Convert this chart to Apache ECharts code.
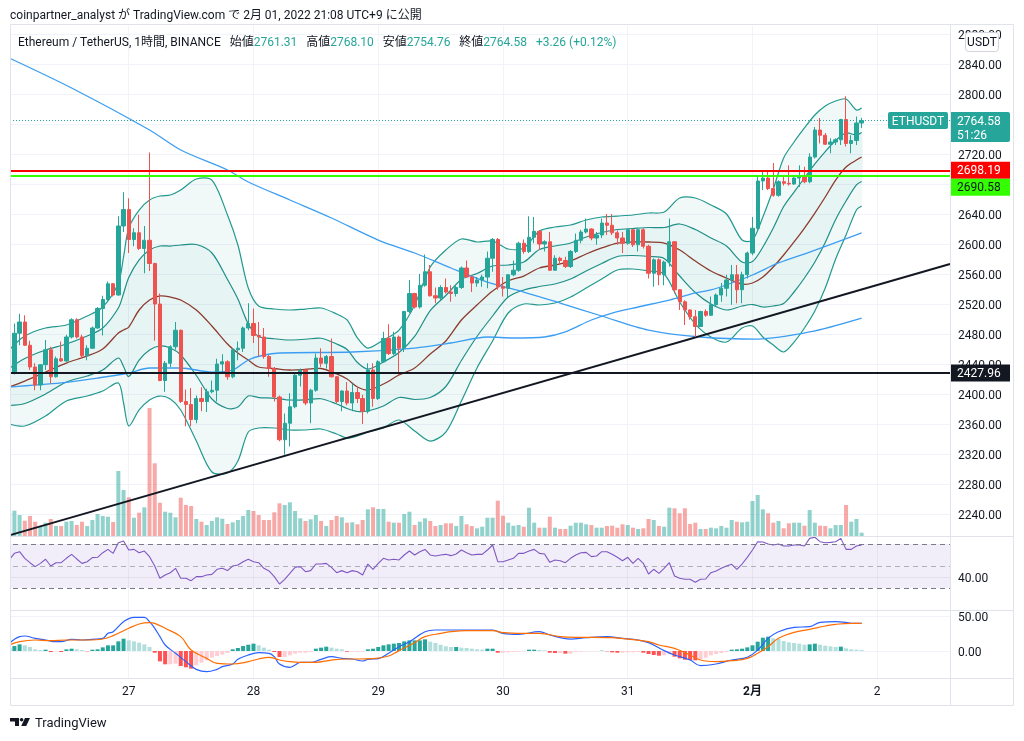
<!DOCTYPE html>
<html><head><meta charset="utf-8">
<script src="https://cdn.jsdelivr.net/npm/echarts@6/dist/echarts.min.js"></script>
<style>html,body{margin:0;padding:0;background:#fff;}#chart{width:1024px;height:741px;}</style>
</head><body><div id="chart"></div>
<script>
// ---------- DATA (hours are offsets from 2022-01-27 00:00 UTC+9) ----------
const firstHour = -23;
const opens = [2418,2428,2481,2496,2465,2436,2412,2439,2459,2423,2447,2444,
2476,2499,2476,2451,2461,2488,2514,2526,2547,2532,2624,2646,
2606,2615,2594,2605,2574,2520,2418,2441,2463,2485,2390,2386,
2366,2394,2390,2403,2405,2440,2443,2423,2459,2461,2488,2494,
2478,2476,2450,2434,2396,2339,2361,2383,2425,2432,2388,2405,
2448,2441,2450,2423,2390,2404,2388,2402,2394,2377,2432,2394,
2443,2474,2454,2476,2461,2510,2534,2516,2545,2563,2531,2528,
2542,2536,2534,2542,2568,2556,2548,2552,2556,2581,2606,2543,
2541,2559,2565,2601,2590,2609,2617,2600,2603,2565,2581,2578,
2570,2590,2605,2616,2620,2608,2612,2628,2625,2615,2608,2601,
2619,2599,2619,2597,2561,2579,2559,2576,2603,2539,2523,2512,
2503,2490,2510,2505,2519,2532,2541,2552,2559,2539,2559,2588,
2621,2684,2688,2674,2665,2683,2681,2680,2688,2690,2683,2716,
2752,2745,2733,2736,2739,2766,2734,2738,2761.31];
const closes = [2428,2481,2496,2465,2436,2412,2439,2459,2423,2447,2444,2476,
2499,2476,2451,2461,2488,2514,2526,2547,2532,2624,2646,2606,
2615,2594,2605,2574,2520,2418,2441,2463,2485,2390,2386,2366,
2394,2390,2403,2405,2440,2443,2423,2459,2461,2488,2494,2478,
2476,2450,2434,2396,2339,2361,2383,2425,2432,2388,2405,2448,
2441,2450,2423,2390,2404,2388,2402,2394,2377,2432,2394,2443,
2474,2454,2476,2461,2510,2534,2516,2545,2563,2531,2528,2542,
2536,2534,2542,2568,2556,2548,2552,2556,2581,2606,2543,2541,
2559,2565,2601,2590,2609,2617,2600,2603,2565,2581,2578,2570,
2590,2605,2616,2620,2608,2612,2628,2625,2615,2608,2601,2619,
2599,2619,2597,2561,2579,2559,2576,2603,2539,2523,2512,2503,
2490,2510,2505,2519,2532,2541,2552,2559,2539,2559,2588,2621,
2684,2688,2674,2665,2683,2681,2680,2688,2690,2683,2716,2752,
2745,2733,2736,2739,2766,2734,2738,2761.31,2764.58];
const lows = [2414,2426,2465,2464,2432,2405,2405,2432,2414,2422,2443,2443,
2474,2474,2448,2445,2460,2487,2478,2523,2530,2531,2616,2588,
2597,2592,2561,2564,2471,2417,2403,2436,2459,2388,2357,2357,
2361,2377,2376,2401,2390,2428,2419,2421,2445,2456,2485,2468,
2450,2447,2423,2390,2337,2319,2330,2381,2410,2385,2361,2403,
2436,2434,2422,2388,2377,2385,2377,2388,2360,2374,2383,2392,
2442,2452,2452,2425,2456,2508,2514,2514,2543,2530,2521,2525,
2534,2523,2530,2540,2555,2536,2543,2543,2541,2563,2539,2530,
2529,2557,2563,2587,2588,2601,2592,2590,2564,2565,2572,2568,
2568,2588,2601,2614,2605,2599,2608,2612,2612,2599,2588,2599,
2596,2590,2594,2554,2543,2545,2545,2570,2534,2512,2492,2499,
2476,2490,2503,2504,2517,2523,2530,2519,2521,2521,2554,2585,
2619,2672,2672,2663,2663,2678,2678,2679,2676,2681,2681,2714,
2734,2732,2721,2732,2732,2730,2721,2732,2754.76];
const highs = [2431,2494,2507,2505,2471,2441,2440,2472,2463,2450,2470,2479,
2501,2501,2479,2465,2490,2516,2531,2550,2548,2637,2669,2661,
2621,2639,2624,2722,2575,2534,2444,2465,2496,2486,2406,2408,
2398,2409,2407,2418,2447,2453,2445,2461,2470,2490,2521,2514,
2496,2488,2452,2436,2398,2374,2401,2427,2434,2434,2407,2454,
2461,2452,2474,2424,2405,2416,2414,2408,2399,2441,2441,2445,
2483,2493,2483,2478,2511,2552,2535,2560,2586,2572,2542,2545,
2554,2545,2545,2570,2578,2558,2556,2559,2590,2608,2608,2556,
2560,2578,2603,2606,2637,2636,2618,2605,2616,2585,2583,2583,
2592,2614,2619,2634,2621,2616,2634,2640,2640,2618,2616,2620,
2620,2620,2621,2599,2581,2581,2578,2634,2604,2540,2525,2513,
2512,2511,2513,2530,2534,2548,2559,2572,2572,2563,2590,2636,
2690,2696,2696,2708,2685,2690,2705,2690,2705,2703,2721,2756,
2768,2748,2741,2741,2767,2797,2745,2770,2768.10];
const volumes = [22.7,25.3,21,15.3,20,14.3,9.3,13.3,17,10,10,14.3,
15,11,14.3,10,16,22,20,19.3,14,65,46,38.7,
18.3,23.3,28.7,128,72.7,33.3,24.3,23.3,18.7,38.3,31,30,
17,14.3,11,15,18.7,17.3,12,13.7,16,20,26,25,
21,16,16,23.7,32.7,31,33.7,25,17.7,15,16.7,21,
15,10,16,20,18.7,13.3,13.7,11.7,16,26.7,28.7,27,
27,14.3,13.3,13.3,22,24.3,11,14.3,17.7,15,10,11,
12.7,12.7,10,20,11.7,10,7.7,9.3,18.3,18.3,35.3,20.3,
13.3,10.3,11,9.3,28.3,13.3,8.3,8.3,19.3,8.3,7,7,
10.3,13.3,13.3,11.7,11,8.3,8.3,10,10.3,8.3,11.7,11,
8.3,7,7.7,17,16,10,9.3,28.3,27.7,22.7,27.7,12,
13.3,7,7,8.3,7.7,10,8.3,16,14.3,13.7,14.3,35,
41,26.7,22.7,13.3,15,7.7,12.7,13.3,13.3,10.3,26,13.3,
10.3,10,7.7,11,11,31,14.3,17,3.3];
const rsiValues = [55.5,61.5,63.0,57.0,53.0,49.4,52.4,56.1,50.0,53.0,53.0,57.0,
60.6,56.4,52.4,53.9,57.6,57.9,62.1,65.1,61.5,71.2,72.7,64.5,
65.1,62.1,63.6,58.5,50.0,38.8,41.8,43.9,47.9,38.8,38.8,36.7,
40.3,40.3,41.8,42.4,47.0,47.9,45.8,50.0,50.9,53.9,56.1,53.9,
53.0,47.9,45.5,40.3,33.6,37.9,43.3,48.8,49.4,44.8,45.8,51.8,
51.8,52.4,48.8,43.9,45.8,43.9,45.8,44.8,41.8,51.8,47.0,52.4,
57.0,55.5,56.1,55.5,60.0,63.6,60.0,63.0,65.1,60.0,59.1,60.0,
60.6,59.4,60.9,64.5,62.1,60.0,60.6,60.6,64.5,69.1,53.9,53.9,
55.5,57.0,61.5,61.5,63.6,65.1,61.5,60.9,53.3,55.5,54.8,53.0,
57.0,60.0,62.1,62.4,58.5,59.1,63.0,63.0,60.6,57.9,54.8,57.9,
52.4,57.0,52.4,42.7,47.0,43.3,47.9,53.0,40.9,38.8,37.9,37.9,
35.2,37.9,38.2,43.9,45.5,47.9,50.0,51.5,47.0,51.8,57.9,64.5,
72.1,71.8,70.0,69.1,70.0,68.2,68.2,69.1,69.1,68.2,75.1,76.1,
72.1,71.2,71.5,72.1,75.1,65.1,65.1,68.2,69.1];
const macdHist = [4.3,7.1,9.5,8.1,5.7,2.4,1.4,1.9,-1.4,-0.5,-1.4,2.4,
3.3,2.4,1.4,-0.5,1.9,2.4,5.2,8.1,8.1,13.8,17.6,15.2,
13.8,11.9,9.5,5.7,-2.4,-14.8,-19.0,-19.0,-18.1,-21.4,-23.3,-25.2,
-20.5,-16.7,-13.3,-9.5,-7.1,-5.2,-2.9,2.4,4.3,7.1,9.0,10.5,
8.1,4.8,1.9,-1.4,-8.6,-8.6,-6.2,-3.8,-2.4,-2.4,-1.4,3.3,
4.8,6.2,4.8,3.3,2.4,-1.0,-1.0,-1.0,-1.0,2.4,3.3,5.7,
8.1,9.5,10.5,11.4,13.8,15.2,15.2,15.2,16.7,13.3,11.4,9.0,
6.7,5.7,5.7,4.8,4.3,3.3,2.4,1.9,3.3,3.3,-2.4,-2.4,
-1.9,-1.4,-1.0,-0.5,1.9,1.9,1.4,1.0,-2.4,-2.9,-2.9,-3.8,
-3.8,-1.4,-1.0,-0.5,-0.5,-0.5,0.5,-0.5,-1.9,-2.4,-2.4,-1.9,
-1.9,-1.4,-2.4,-4.3,-5.7,-6.7,-6.2,-4.3,-8.1,-10.5,-12.4,-12.9,
-13.3,-11.9,-9.5,-6.2,-4.3,-2.9,-1.4,1.9,2.4,3.3,5.2,8.1,
13.3,19.0,20.5,18.1,17.1,14.3,12.4,11.4,10.5,9.0,9.5,10.5,
9.0,7.6,6.7,5.7,6.2,3.8,2.4,1.9,1.4];
// MACD / signal lines read at sample hours: [hour, value]
const macdLine = [[-23,11.0],[-21,20.5],[-20,21.4],[-18,18.1],[-16,15.7],[-14,13.3],[-13,13.3],[-11,16.7],[-9,15.7],[-7,16.7],[-5,18.1],[-4,25.2],[-3,27.6],[-1,41.9],[1,48.1],[3,48.1],[4,41.9],[5,32.4],[6,20.5],[7,8.6],[9,-3.3],[11,-15.2],[13,-26.2],[15,-29.5],[17,-26.2],[18,-22.4],[20,-18.6],[21,-11.9],[23,-5.7],[25,-2.4],[27,-3.3],[28,-8.1],[29,-18.6],[31,-23.3],[32,-20.0],[33,-16.2],[35,-16.2],[37,-11.9],[39,-8.1],[41,-10.5],[43,-11.4],[45,-14.3],[46,-11.9],[48,-10.9],[50,-3.3],[52,6.2],[54,13.3],[57,27.6],[59,30.0],[62,30.0],[66,30.0],[70,30.0],[72,25.2],[75,23.8],[79,27.6],[81,22.9],[85,17.1],[88,19.0],[92,20.5],[95,18.1],[98,15.7],[100,11.9],[103,0.5],[105,-5.7],[108,-12.9],[110,-20.9],[113,-18.6],[116,-12.9],[119,-9.0],[121,1.4],[123,18.1],[125,27.6],[128,33.8],[131,34.8],[133,40.9],[136,41.9],[138,40.9],[139,39.5],[141,39.5]];
const signalLine = [[-23,8.6],[-21,13.3],[-18,15.7],[-15,14.8],[-12,15.7],[-8,15.7],[-5,17.1],[-3,21.9],[0,32.4],[2,38.6],[4,40.5],[5,39.5],[7,32.4],[10,20.5],[12,1.4],[15,-10.5],[17,-17.6],[20,-18.6],[23,-15.2],[25,-11.4],[27,-9.0],[29,-12.9],[31,-15.2],[33,-16.2],[36,-16.2],[39,-12.9],[42,-11.4],[44,-11.4],[47,-10.9],[50,-7.1],[52,0.5],[55,11.9],[57,20.5],[60,25.2],[62,27.6],[65,29.0],[70,29.0],[72,26.2],[76,25.2],[79,25.2],[83,20.5],[86,19.5],[89,19.5],[93,19.0],[96,17.1],[100,13.3],[102,8.6],[105,3.8],[108,-5.7],[110,-12.9],[113,-15.2],[116,-13.8],[119,-10.5],[121,-3.3],[123,6.2],[125,18.1],[128,26.7],[131,31.0],[134,35.7],[136,38.1],[139,39.5],[141,39.5]];
// Bollinger bands read at sample hours
const bbHours  = [-23,-20,-16,-12,-8,-5,-2,-1,0,2,4,6,8,10,13,16,19,21,23,25,28,31,34,37,40,42,44,46,49,52,55,58,61,64,67,70,73,76,79,82,85,88,91,94,97,100,103,106,109,112,115,118,120,122,124,126,128,130,132,134,136,138,140,141];
const bbUpper2 = [2458.7,2477.3,2488.0,2492.0,2504.0,2516.0,2548.0,2582.7,2621.3,2645.3,2658.7,2664.0,2665.3,2672.0,2686.7,2685.3,2638.7,2598.7,2541.3,2517.3,2513.3,2512.0,2513.3,2514.7,2506.7,2498.7,2474.7,2461.3,2472.0,2485.3,2518.7,2569.3,2592.0,2606.7,2602.7,2604.0,2593.3,2594.7,2617.3,2622.7,2625.3,2632.0,2636.0,2637.3,2638.7,2641.3,2642.7,2661.3,2661.3,2652.0,2640.0,2605.3,2605.3,2636.0,2673.3,2714.7,2736.0,2754.7,2772.0,2784.0,2790.7,2793.3,2778.7,2781.3];
const bbUpper1 = [2434.0,2447.3,2458.7,2466.7,2477.3,2488.0,2514.7,2534.0,2555.3,2578.7,2592.0,2597.3,2597.3,2598.7,2599.3,2588.0,2552.7,2526.7,2493.3,2476.7,2473.7,2472.0,2473.0,2474.3,2466.7,2459.3,2442.0,2433.3,2442.7,2455.3,2476.7,2511.3,2531.3,2552.7,2560.7,2570.7,2572.0,2576.0,2592.7,2597.3,2601.3,2609.3,2615.3,2619.3,2620.7,2622.0,2622.0,2626.7,2619.3,2608.0,2597.3,2576.0,2576.7,2596.0,2621.3,2650.0,2669.3,2688.0,2706.7,2723.3,2738.0,2748.0,2745.3,2748.7];
const bbMiddle = [2409.3,2417.3,2429.3,2441.3,2450.7,2460.0,2481.3,2485.3,2489.3,2512.0,2525.3,2530.7,2529.3,2525.3,2512.0,2490.7,2466.7,2454.7,2445.3,2436.0,2434.0,2432.0,2432.7,2434.0,2426.7,2420.0,2409.3,2405.3,2413.3,2425.3,2434.7,2453.3,2470.7,2498.7,2518.7,2537.3,2550.7,2557.3,2568.0,2572.0,2577.3,2586.7,2594.7,2601.3,2602.7,2602.7,2601.3,2592.0,2577.3,2564.0,2554.7,2546.7,2548.0,2556.0,2569.3,2585.3,2602.7,2621.3,2641.3,2662.7,2685.3,2702.7,2712.0,2716.0];
const bbLower1 = [2384.7,2387.3,2400.0,2416.0,2424.0,2432.0,2448.0,2436.7,2423.3,2445.3,2458.7,2464.0,2461.3,2452.0,2424.7,2393.3,2380.7,2382.7,2397.3,2395.3,2394.3,2392.0,2392.3,2393.7,2386.7,2380.7,2376.7,2377.3,2384.0,2395.3,2392.7,2395.3,2410.0,2444.7,2476.7,2504.0,2529.3,2538.7,2543.3,2546.7,2553.3,2564.0,2574.0,2583.3,2584.7,2583.3,2580.7,2557.3,2535.3,2520.0,2512.0,2517.3,2519.3,2516.0,2517.3,2520.7,2536.0,2554.7,2576.0,2602.0,2632.7,2657.3,2678.7,2683.3];
const bbLower2 = [2360.0,2357.3,2370.7,2390.7,2397.3,2404.0,2414.7,2388.0,2357.3,2378.7,2392.0,2397.3,2393.3,2378.7,2337.3,2296.0,2294.7,2310.7,2349.3,2354.7,2354.7,2352.0,2352.0,2353.3,2346.7,2341.3,2344.0,2349.3,2354.7,2365.3,2350.7,2337.3,2349.3,2390.7,2434.7,2470.7,2508.0,2520.0,2518.7,2521.3,2529.3,2541.3,2553.3,2565.3,2566.7,2564.0,2560.0,2522.7,2493.3,2476.0,2469.3,2488.0,2490.7,2476.0,2465.3,2456.0,2469.3,2488.0,2510.7,2541.3,2580.0,2612.0,2645.3,2650.7];
// moving averages (blue) read at sample hours
const maLong  = [[-23,2848.0],[-11,2808.0],[4,2752.0],[10,2725.3],[19,2698.7],[23,2682.7],[31,2658.7],[39,2634.7],[48,2605.3],[55,2588.0],[62,2568.0],[69,2549.3],[76,2536.0],[83,2521.3],[91,2504.0],[100,2485.3],[110,2476.0],[121,2473.3],[131,2482.7],[141,2501.3]];
const maShort = [[-23,2409.3],[-13,2414.7],[-6,2421.3],[0,2428.0],[4,2434.7],[10,2434.7],[16,2429.3],[20,2432.0],[23,2445.3],[26,2452.0],[29,2454.7],[43,2456.0],[55,2461.3],[62,2468.0],[69,2476.0],[74,2474.7],[80,2476.0],[84,2482.7],[89,2498.7],[93,2508.0],[98,2516.0],[104,2525.3],[109,2534.7],[112,2538.7],[116,2548.0],[120,2558.7],[125,2574.7],[131,2589.3],[141,2614.7]];
const trendline = [[-23,2211.5],[158,2573.3]];
const redLevel = 2698.19, greenLevel = 2690.58, blackLevel = 2427.96;
const countdown = '51:26';
const dayTicks = [0,24,48,72,96,120,144];
const dayNames = ['27','28','29','30','31','2月','2'];
const monthStartTick = 120;

// ---------- CHART ----------
const FONT = 'Roboto, "Noto Sans CJK JP", sans-serif';
const hours = opens.map((_, i) => firstHour + i);
const UP = '#26a69a', DOWN = '#ef5350', GRIDC = '#f0f3fa';
const chart = echarts.init(document.getElementById('chart'));

function gridDef(top, height){ return {left:4, right:74, top:top, height:height, containLabel:false, outerBoundsMode:'none'}; }
function xAx(k){
  return {type:'value', gridIndex:k, min:-24, max:158, interval:24,
    axisLine:{show:false}, axisTick:{show:false},
    splitLine:{show:k!==1, showMinLine:false, showMaxLine:false, lineStyle:{color:GRIDC, width:1}},
    axisLabel: k===3 ? {show:true, margin:8, color:'#131722', fontSize:12, fontFamily:FONT,
      formatter: v => { const i = dayTicks.indexOf(v); if (i < 0) return ''; return v===monthStartTick ? '{b|'+dayNames[i]+'}' : dayNames[i]; },
      rich:{b:{fontWeight:'bold', fontSize:12, color:'#131722', fontFamily:FONT}}} : {show:false}
  };
}
const axRich = {a:{color:'#131722', fontSize:12, fontFamily:FONT, padding:[4,0,0,0]}};
const labelStyle = {color:'#131722', fontSize:12, fontFamily:FONT, margin:8, rich:axRich};
const priceFmt = v => '{a|'+v.toFixed(2)+'}';

const option = {
  animation:false,
  backgroundColor:'#ffffff',
  grid:[gridDef(26,510), gridDef(26,510), gridDef(536,74), gridDef(610,68)],
  xAxis:[xAx(0), xAx(1), xAx(2), xAx(3)],
  yAxis:[
    {type:'value', gridIndex:0, position:'right', min:2210.67, max:2890.67, splitNumber:17, minInterval:40, maxInterval:40,
      axisLine:{show:false}, axisTick:{show:false},
      splitLine:{show:true, showMinLine:false, showMaxLine:false, lineStyle:{color:GRIDC}},
      axisLabel:Object.assign({showMinLabel:false, showMaxLabel:false, formatter:priceFmt}, labelStyle)},
    {type:'value', gridIndex:1, min:0, max:510, show:false},
    {type:'value', gridIndex:2, position:'right', min:10, max:77.27, splitNumber:7, minInterval:10, maxInterval:10,
      axisLine:{show:false}, axisTick:{show:false}, splitLine:{show:false},
      axisLabel:Object.assign({formatter:v=>Math.abs(v-40)<1e-6?priceFmt(40):''}, labelStyle)},
    {type:'value', gridIndex:3, position:'right', min:-38.57, max:58.57, splitNumber:2, minInterval:50, maxInterval:50,
      axisLine:{show:false}, axisTick:{show:false},
      splitLine:{show:true, showMinLine:false, showMaxLine:false, lineStyle:{color:GRIDC}},
      axisLabel:Object.assign({showMinLabel:false, showMaxLabel:false, formatter:priceFmt}, labelStyle)}
  ],
  series:[
    {type:'bar', name:'Volume', xAxisIndex:1, yAxisIndex:1, barWidth:4, z:1, silent:true,
      data: hours.map((h,i)=>[h, volumes[i]]),
      itemStyle:{color: p => closes[p.dataIndex] >= opens[p.dataIndex] ? 'rgba(38,166,154,0.5)' : 'rgba(239,83,80,0.5)'}},
    {type:'custom', name:'BB', xAxisIndex:0, yAxisIndex:0, z:1, silent:true,
      data: bbHours.map((h,i)=>[h, bbMiddle[i]]), encode:{x:0, y:1},
      renderItem:(params, api) => {
        if (params.dataIndex !== 0) return null;
        const pts = arr => bbHours.map((h,i)=>api.coord([h, arr[i]]));
        const u2=pts(bbUpper2), u1=pts(bbUpper1), m=pts(bbMiddle), l1=pts(bbLower1), l2=pts(bbLower2);
        const sm = 0.3;
        const line = (p, c, w) => ({type:'polyline', shape:{points:p, smooth:sm}, style:{stroke:c, fill:'none', lineWidth:w}});
        return {type:'group', children:[
          {type:'polygon', shape:{points:u2.concat(l2.slice().reverse()), smooth:sm}, style:{fill:'rgba(38,166,154,0.065)'}},
          {type:'polygon', shape:{points:u1.concat(l1.slice().reverse()), smooth:sm}, style:{fill:'rgba(38,166,154,0.05)'}},
          line(u2,'#22998e',1.2), line(u1,'#1f8f88',1.2), line(l1,'#1f8f88',1.2), line(l2,'#22998e',1.2),
          line(m,'#8c3b2e',1.3)
        ]};
      }},
    {type:'line', name:'MA long', xAxisIndex:0, yAxisIndex:0, data:maLong, smooth:0.3, showSymbol:false, silent:true, z:2,
      lineStyle:{color:'#3c9ef2', width:1.3}},
    {type:'line', name:'MA short', xAxisIndex:0, yAxisIndex:0, data:maShort, smooth:0.3, showSymbol:false, silent:true, z:2,
      lineStyle:{color:'#3c9ef2', width:1.3}},
    {type:'line', name:'Trend', xAxisIndex:0, yAxisIndex:0, data:trendline, showSymbol:false, silent:true, z:3,
      lineStyle:{color:'#131722', width:2}},
    {type:'candlestick', name:'ETHUSDT', xAxisIndex:0, yAxisIndex:0, barWidth:3.8, z:4,
      data: hours.map((h,i)=>[h, opens[i], closes[i], lows[i], highs[i]]),
      itemStyle:{color:UP, color0:DOWN, borderColor:UP, borderColor0:DOWN, borderWidth:1},
      markLine:{silent:true, symbol:['none','none'], label:{show:false}, z:5,
        data:[
          {yAxis:closes[closes.length-1], lineStyle:{color:UP, width:1, type:[1,2]}},
          {yAxis:redLevel, lineStyle:{color:'#ff0000', width:2, type:'solid'}},
          {yAxis:greenLevel, lineStyle:{color:'#33ff00', width:2, type:'solid'}},
          {yAxis:blackLevel, lineStyle:{color:'#131722', width:2, type:'solid'}}
        ]}},
    {type:'line', name:'RSI', xAxisIndex:2, yAxisIndex:2, data: hours.map((h,i)=>[h, rsiValues[i]]), showSymbol:false, silent:true,
      lineStyle:{color:'#7e57c2', width:1.1},
      markArea:{silent:true, itemStyle:{color:'rgba(126,87,194,0.1)'}, data:[[{yAxis:30},{yAxis:70}]]},
      markLine:{silent:true, symbol:['none','none'], label:{show:false}, data:[
        {yAxis:70, lineStyle:{color:'#787b86', width:1, type:[5,4]}},
        {yAxis:50, lineStyle:{color:'rgba(120,123,134,0.55)', width:1, type:[5,4]}},
        {yAxis:30, lineStyle:{color:'#787b86', width:1, type:[5,4]}},
        {yAxis:40, lineStyle:{color:'rgba(120,123,134,0.12)', width:1, type:'solid'}}
      ]}},
    {type:'bar', name:'Histogram', xAxisIndex:3, yAxisIndex:3, barWidth:4, silent:true,
      data: hours.map((h,i)=>[h, macdHist[i]]),
      itemStyle:{color: p => { const i=p.dataIndex, v=macdHist[i], pr = i>0 ? macdHist[i-1] : v;
        return v >= 0 ? (v >= pr ? '#26a69a' : '#b2dfdb') : (v < pr ? '#ff5252' : '#ffcdd2'); }}},
    {type:'line', name:'MACD', xAxisIndex:3, yAxisIndex:3, data:macdLine, smooth:0.4, showSymbol:false, silent:true,
      lineStyle:{color:'#2962ff', width:1.2}},
    {type:'line', name:'Signal', xAxisIndex:3, yAxisIndex:3, data:signalLine, smooth:0.4, showSymbol:false, silent:true,
      lineStyle:{color:'#ff6d00', width:1.2}}
  ]
};
chart.setOption(option);

// ---------- overlays (positions through the price axis) ----------
const yOf = p => chart.convertToPixel({yAxisIndex:0}, p);
const last = closes[closes.length-1];
const yLast = yOf(last), yRed = yOf(redLevel), yBlack = yOf(blackLevel);
const g = [];
const T = (x,y,text,size,fill,extra) => Object.assign({type:'text', z:120, silent:true, x:x, y:y,
  style:Object.assign({text:text, font:size+'px '+FONT, fill:fill, verticalAlign:'middle', align:'left'}, extra||{})});
g.push({type:'rect', z:100, silent:true, shape:{x:0,y:22,width:10,height:686}, style:{fill:'#fff'}});
g.push({type:'rect', z:101, silent:true, shape:{x:10.5,y:24.5,width:1003,height:681}, style:{fill:'none', stroke:'#e0e3eb', lineWidth:1}});
[536.5,610.5,678.5].forEach(y=>g.push({type:'line', z:101, silent:true, shape:{x1:10,y1:y,x2:1014,y2:y}, style:{stroke:'#e0e3eb', lineWidth:1}}));
g.push({type:'line', z:101, silent:true, shape:{x1:950.5,y1:24,x2:950.5,y2:706}, style:{stroke:'#e0e3eb', lineWidth:1}});
// header
g.push(T(10,15.5,'coinpartner_analyst が TradingView.com で 2月 01, 2022 21:08 UTC+9 に公開',12,'#131722'));
const hi = highs[highs.length-1], lo = lows[lows.length-1], op = opens[opens.length-1];
g.push(T(18,42.5,'Ethereum / TetherUS, 1時間, BINANCE   始値{v|'+op.toFixed(2)+'}   高値{v|'+hi.toFixed(2)+'}   安値{v|'+lo.toFixed(2)+'}   終値{v|'+last.toFixed(2)+'}   {v|+3.26 (+0.12%)}',12,'#131722',
  {rich:{v:{fill:'#26a69a', font:'12px '+FONT}}}));
// logo
g.push({type:'polygon', z:120, silent:true, shape:{points:[[10,718],[19,718],[19,726],[15,726],[15,721.5],[10,721.5]]}, style:{fill:'#131722'}});
g.push({type:'circle', z:120, silent:true, shape:{cx:21.6, cy:719.8, r:1.8}, style:{fill:'#131722'}});
g.push({type:'polygon', z:120, silent:true, shape:{points:[[25,718],[30,718],[26.2,726],[21.2,726]]}, style:{fill:'#131722'}});
g.push(T(35,723.5,'TradingView',13,'#131722'));
// USDT badge
g.push({type:'rect', z:110, silent:true, shape:{x:965.5,y:32.5,width:33,height:19,r:3}, style:{fill:'#fff', stroke:'#d1d4dc', lineWidth:1}});
g.push(T(982,43,'USDT',12,'#131722',{align:'center'}));
// last price
g.push({type:'rect', z:110, silent:true, shape:{x:888,y:yLast-8.5,width:60,height:17,r:2}, style:{fill:UP}});
g.push(T(918,yLast+1,'ETHUSDT',12,'#fff',{align:'center'}));
g.push({type:'rect', z:110, silent:true, shape:{x:951,y:yLast-8.5,width:59,height:30,r:[0,2,2,0]}, style:{fill:UP}});
g.push(T(957,yLast+1,last.toFixed(2),12,'#fff'));
g.push(T(957,yLast+15,countdown,12,'#fff'));
// level labels
g.push({type:'rect', z:110, silent:true, shape:{x:951,y:yRed-8.5,width:59,height:17}, style:{fill:'#ff0000'}});
g.push(T(957,yRed+1,redLevel.toFixed(2),12,'#fff'));
g.push({type:'rect', z:110, silent:true, shape:{x:951,y:yRed+8.5,width:59,height:17}, style:{fill:'#33ff00'}});
g.push(T(957,yRed+18,greenLevel.toFixed(2),12,'#131722'));
g.push({type:'rect', z:110, silent:true, shape:{x:951,y:yBlack-8.5,width:59,height:17}, style:{fill:'#131722'}});
g.push(T(957,yBlack+1,blackLevel.toFixed(2),12,'#fff'));
chart.setOption({graphic:g});
</script></body></html>
